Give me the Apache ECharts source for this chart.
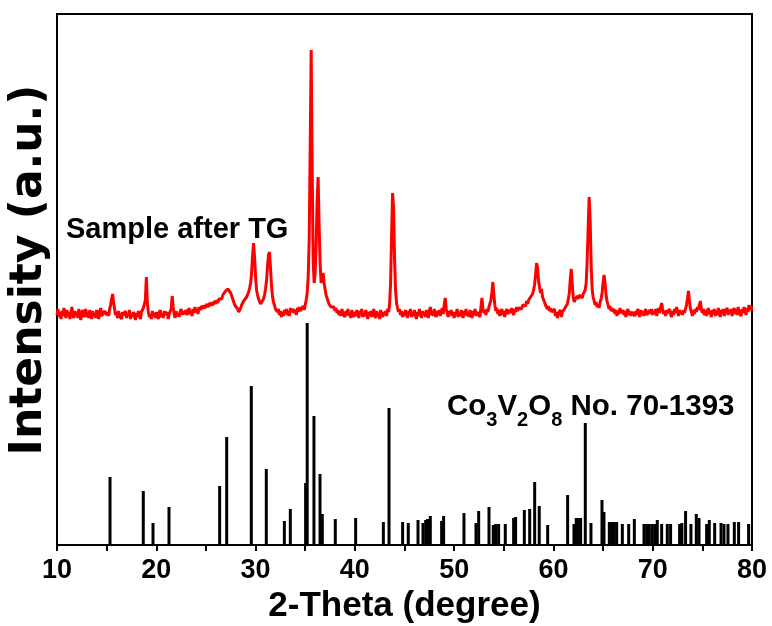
<!DOCTYPE html>
<html>
<head>
<meta charset="utf-8">
<script src="https://cdn.jsdelivr.net/npm/echarts@6/dist/echarts.min.js"></script>
<style>html,body{margin:0;padding:0;background:#fff;}#c{width:772px;height:626px;}</style>
</head>
<body>
<div id="c"></div>
<script>
// Measured XRD pattern (Sample after TG): intensities every 0.1 deg starting at 10.0
const sampleStart = 10.0;
const sampleStep = 0.1;
const sampleIntensity = [
  230,236,228,233,226,234,229,237,231,227,
  235,229,233,226,232,238,230,227,234,229,
  233,227,236,230,225,232,235,228,231,236,
  228,233,227,235,231,226,234,229,232,227,
  235,230,226,233,237,229,231,228,234,236,
  230,233,229,236,240,246,251,243,236,230,
  233,227,234,229,231,226,233,230,228,234,
  227,232,229,235,226,231,228,233,230,225,
  232,228,234,229,226,233,231,237,235,245,
  268,242,233,228,231,226,234,229,232,227,
  233,229,226,232,235,228,231,227,234,230,
  228,233,226,231,229,236,249,238,231,227,
  234,229,232,228,233,236,230,234,231,229,
  235,230,233,237,231,234,229,236,232,238,
  233,236,231,238,235,233,239,236,240,237,
  235,241,238,236,242,239,243,240,238,244,
  241,245,242,246,244,248,246,250,248,253,
  251,254,256,258,255,252,249,246,243,240,
  242,238,236,233,235,237,240,241,244,246,
  244,248,250,253,257,262,272,290,302,288,
  268,255,250,246,244,241,240,243,246,250,
  256,264,278,290,293,278,260,249,243,240,
  236,238,233,236,230,234,228,233,229,235,
  231,236,230,234,229,237,233,231,236,232,
  235,230,237,233,238,234,236,232,239,235,
  240,245,252,268,305,395,495,380,285,262,
  272,300,345,368,320,282,262,268,272,262,
  256,250,247,244,241,243,238,240,236,238,
  234,237,232,235,230,234,229,236,231,233,
  228,234,230,236,229,233,227,235,231,228,
  233,229,235,231,227,234,230,236,228,232,
  229,235,231,226,233,230,234,228,232,236,
  230,227,234,229,232,226,235,231,228,233,
  230,234,229,236,233,241,262,310,352,338,
  285,255,242,237,233,236,230,234,228,233,
  229,235,231,227,234,230,236,228,233,229,
  235,230,226,233,229,236,231,227,234,230,
  233,228,235,231,227,234,238,230,233,229,
  236,231,228,234,230,235,229,233,237,231,
  240,247,236,232,228,234,230,235,229,233,
  227,233,230,236,228,232,229,235,231,227,
  234,230,236,229,233,228,235,231,227,234,
  230,236,229,233,231,235,228,238,247,236,
  232,235,230,236,233,238,241,245,252,263,
  250,240,234,237,231,235,229,233,236,230,
  234,228,233,236,231,229,235,232,237,233,
  230,236,233,238,234,237,235,239,236,240,
  238,242,239,244,241,245,243,248,246,251,
  255,260,270,282,278,264,258,252,256,248,
  246,243,240,238,236,239,234,237,233,235,
  231,236,229,233,227,232,230,235,228,233,
  231,236,234,238,241,246,252,266,276,260,
  247,243,246,244,249,246,250,248,252,247,
  251,250,255,262,285,318,348,325,280,256,
  248,244,240,243,238,241,237,243,246,252,
  262,270,262,250,244,240,236,239,234,237,
  233,236,231,235,229,234,231,237,232,230,
  235,230,234,228,233,236,230,234,229,233,
  231,235,229,234,230,236,233,228,235,231,
  234,229,233,236,230,232,228,235,231,236,
  230,234,231,236,229,233,237,232,238,242,
  236,231,234,229,235,232,230,236,231,228,
  234,230,236,232,238,234,229,235,231,234,
  230,235,232,236,240,246,254,244,236,233,
  229,235,231,236,233,238,235,240,244,236,
  232,236,230,235,229,233,237,231,234,228,
  235,231,236,229,234,230,237,232,228,235,
  231,236,229,234,232,237,230,235,231,236,
  229,234,237,231,236,230,238,233,235,229,
  236,232,238,234,230,237,233,240,235,239,
  234
];

// Reference card Co3V2O8 No. 70-1393: positions (2-theta) and stick heights
const refTheta = [
  15.34,18.69,19.67,21.28,26.38,27.09,29.57,31.08,32.90,33.50,35.04,35.20,35.88,36.49,36.72,
  38.03,40.08,42.87,43.44,44.81,45.38,46.36,46.86,47.13,47.33,47.60,48.74,48.94,50.99,52.20,
  52.47,53.51,53.94,54.18,54.48,55.15,55.99,56.19,57.07,57.61,58.11,58.57,59.42,61.43,62.07,
  62.30,62.50,62.74,63.21,63.78,64.89,65.09,65.63,65.86,66.13,66.37,66.94,67.58,68.15,69.12,
  69.39,69.66,69.96,70.23,70.46,70.90,71.47,71.80,72.71,72.94,73.31,73.85,74.39,74.66,75.43,
  75.70,76.24,76.88,77.18,77.58,78.22,78.65,79.66
];
const refHeight = [
  68,54,22,38,59,108,159,76,24,36,62,222,129,71,31,
  26,27,23,137,23,22,25,22,25,26,29,24,29,32,22,
  34,38,20,21,21,21,27,28,35,36,63,39,20,50,21,
  27,27,27,122,22,45,33,23,23,23,23,21,21,26,21,
  21,21,21,21,25,21,21,21,21,22,34,21,31,27,21,
  25,22,22,21,21,23,23,21
];

const xTicks = [10,20,30,40,50,60,70,80];
const sampleLabel = 'Sample after TG';
const xName = '2-Theta (degree)';
const yName = 'Intensity (a.u.)';

const sampleData = sampleIntensity.map((v, i) => [+(sampleStart + i * sampleStep).toFixed(2), v]);
const refData = refTheta.map((t, i) => [t, refHeight[i]]);

const chart = echarts.init(document.getElementById('c'));
chart.setOption({
  animation: false,
  backgroundColor: '#fff',
  grid: { left: 57, right: 20, top: 14, bottom: 81, containLabel: false, outerBoundsMode: 'none',
          show: true, borderColor: '#000', borderWidth: 2, backgroundColor: 'transparent' },
  xAxis: {
    type: 'value', min: 10, max: 80, interval: 5,
    name: xName, nameLocation: 'middle', nameGap: 42,
    nameTextStyle: { fontFamily: 'Liberation Sans', fontWeight: 'bold', fontSize: 35, color: '#000' },
    axisLine: { show: true, lineStyle: { color: '#000', width: 2 } },
    axisTick: { show: true, inside: false, length: 6, lineStyle: { color: '#000', width: 2 } },
    axisLabel: {
      margin: 12, color: '#000', fontFamily: 'Liberation Sans', fontWeight: 'bold', fontSize: 27,
      formatter: v => (xTicks.indexOf(v) >= 0 ? String(v) : '')
    },
    splitLine: { show: false }
  },
  yAxis: {
    type: 'value', min: 0, max: 531,
    axisLine: { show: false }, axisTick: { show: false }, axisLabel: { show: false }, splitLine: { show: false }
  },
  series: [
    {
      type: 'line', data: sampleData, showSymbol: false, symbol: 'none',
      lineStyle: { color: '#ff0000', width: 3 }, z: 3
    },
    {
      type: 'bar', data: refData, barWidth: 3, itemStyle: { color: '#000' }, z: 2
    }
  ],
  graphic: [
    {
      type: 'text', x: 30, y: 270, rotation: Math.PI / 2,
      style: { text: yName, font: 'bold 44px "DejaVu Sans"', fill: '#000', align: 'center', verticalAlign: 'middle' }
    },
    {
      type: 'text', left: 66, top: 215,
      style: { text: sampleLabel, font: 'bold 29px "Liberation Sans"', fill: '#000' }
    },
    {
      type: 'text', left: 447, top: 392,
      style: {
        text: '{n|Co}{s|3}{n|V}{s|2}{n|O}{s|8}{n| No. 70-1393}',
        fill: '#000',
        rich: {
          n: { fontFamily: 'Liberation Sans', fontWeight: 'bold', fontSize: 29.5, lineHeight: 31, verticalAlign: 'top', fill: '#000' },
          s: { fontFamily: 'Liberation Sans', fontWeight: 'bold', fontSize: 20, lineHeight: 20, padding: [18, 0, 0, 0], verticalAlign: 'top', fill: '#000' }
        }
      }
    }
  ]
});
</script>
</body>
</html>
